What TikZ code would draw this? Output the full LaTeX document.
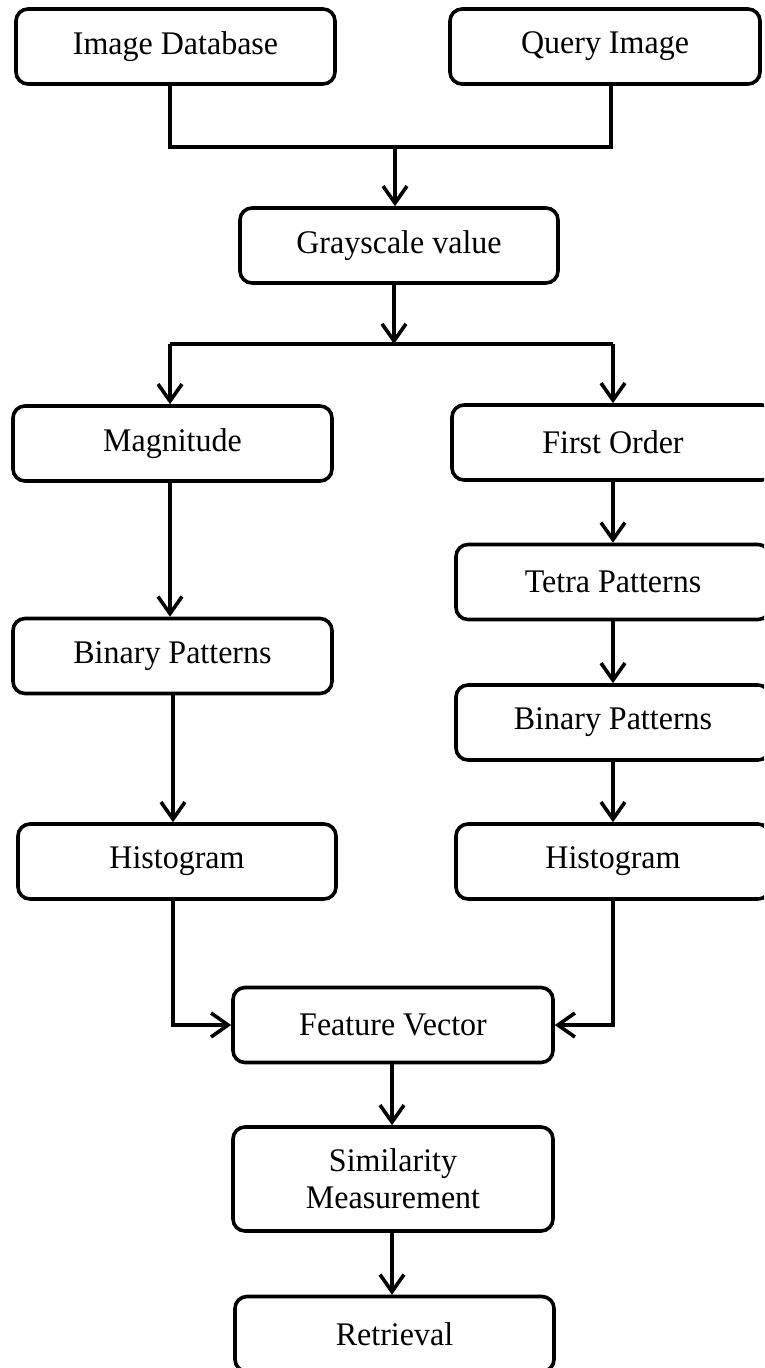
\documentclass[tikz,border=0pt]{standalone}
\usepackage{fontspec}
\setmainfont[FakeStretch=0.97]{Liberation Serif}
\usetikzlibrary{arrows.meta}
\begin{document}
\begin{tikzpicture}[x=1pt,y=-1pt,
  box/.style={draw, line width=3.6pt, rounded corners=12pt, minimum height=75pt,
    inner sep=0pt, align=center, font=\fontsize{33}{37}\selectfont},
  conn/.style={line width=3.6pt},
  arr/.style={conn, -{Straight Barb[length=17pt,width=24pt,line width=3.6pt]}}]
\useasboundingbox (0,0) rectangle (764,1368);
\clip (0,0) rectangle (764,1368);
% nodes
\node[box, minimum width=319pt] (imgdb) at (175.5,46.5) {Image Database};
\node[box, minimum width=310pt] (query) at (605,46.5) {Query Image};
\node[box, minimum width=318pt] (gray) at (399,245.5) {Grayscale value};
\node[box, minimum width=319pt] (mag) at (172.5,443.5) {Magnitude};
\node[box, minimum width=322pt] (first) at (613,442.5) {First Order};
\node[box, minimum width=314pt] (tetra) at (613,582) {Tetra Patterns};
\node[box, minimum width=319pt] (binL) at (172.5,656) {Binary Patterns};
\node[box, minimum width=314pt] (binR) at (613,722.5) {Binary Patterns};
\node[box, minimum width=318pt] (histL) at (177,861.5) {Histogram};
\node[box, minimum width=314pt] (histR) at (613,861.5) {Histogram};
\node[box, minimum width=320pt] (fv) at (393,1025) {Feature Vector};
\node[box, minimum width=320pt, minimum height=104pt] (sim) at (393,1179) {Similarity\\Measurement};
\node[box, minimum width=319pt] (ret) at (394.5,1334) {Retrieval};
% helper coordinates
\coordinate (jL) at (170,147);
\coordinate (jR) at (611,147);
\coordinate (jC) at (395,147);
\coordinate (sC) at (394,344);
\coordinate (sL) at (170,344);
\coordinate (sR) at (613,344);
\coordinate (cL) at (173,0);
\coordinate (cM) at (392,0);
% connectors
\draw[conn] (jL |- imgdb.south) -- (jL) -- (jR) -- (jR |- query.south);
\draw[arr] (jC) -- (jC |- gray.north);
\draw[arr] (sC |- gray.south) -- (sC);
\draw[conn] (sL) -- (sR);
\draw[arr] (sL) -- (sL |- mag.north);
\draw[arr] (sR) -- (sR |- first.north);
\draw[arr] (sL |- mag.south) -- (sL |- binL.north);
\draw[arr] (cL |- binL.south) -- (cL |- histL.north);
\draw[arr] (first.south) -- (tetra.north);
\draw[arr] (tetra.south) -- (binR.north);
\draw[arr] (binR.south) -- (histR.north);
\draw[arr] (cL |- histL.south) |- (fv.west);
\draw[arr] (histR.south) |- (fv.east);
\draw[arr] (cM |- fv.south) -- (cM |- sim.north);
\draw[arr] (cM |- sim.south) -- (cM |- ret.north);
\end{tikzpicture}
\end{document}
